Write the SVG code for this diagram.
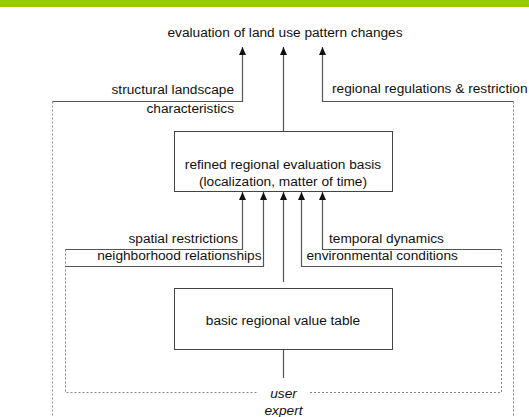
<svg xmlns="http://www.w3.org/2000/svg" width="529" height="417" viewBox="0 0 529 417">
  <style>
    text { font-family: "Liberation Sans", Arial, sans-serif; font-size: 13.7px; fill: #111; }
    .mid { text-anchor: middle; }
    .end { text-anchor: end; }
    .it { font-style: italic; }
    .box { fill: #fff; stroke: #444; stroke-width: 1; }
    .wire { fill: none; stroke: #555; stroke-width: 1.2; }
    .dot { fill: none; stroke: #888; stroke-width: 1; stroke-dasharray: 2 2; }
  </style>
  <defs>
    <marker id="head" viewBox="0 0 8 8" refX="8" refY="4" markerWidth="8" markerHeight="8" markerUnits="userSpaceOnUse" orient="auto">
      <path d="M0,0.5 L8,4 L0,7.5 Z" fill="#111"/>
    </marker>
  </defs>

  <rect x="0" y="0" width="529" height="7" fill="#99cc00"/>

  <!-- dotted boundaries -->
  <g id="boundaries">
    <path class="dot" d="M52.5,101.5 V417 M513.5,101.5 V417"/>
    <path class="dot" d="M65.5,249.5 V392.5 H258 M310,392.5 H501.5 V249.5"/>
  </g>

  <!-- connectors -->
  <g id="connectors">
    <path class="wire" d="M52.5,101.5 H242.5 V47" marker-end="url(#head)"/>
    <path class="wire" d="M283.5,131.5 V47" marker-end="url(#head)"/>
    <path class="wire" d="M513.5,101.5 H322.5 V47" marker-end="url(#head)"/>
    <path class="wire" d="M65.5,249.5 H242.5 V192" marker-end="url(#head)"/>
    <path class="wire" d="M65.5,266.5 H263.5 V192" marker-end="url(#head)"/>
    <path class="wire" d="M283.5,282 V192" marker-end="url(#head)"/>
    <path class="wire" d="M501.5,266.5 H301.5 V192" marker-end="url(#head)"/>
    <path class="wire" d="M501.5,249.5 H322.5 V192" marker-end="url(#head)"/>
    <path class="wire" d="M283.5,378 V337" marker-end="url(#head)"/>
  </g>

  <g id="result">
    <text class="mid" x="285" y="37">evaluation of land use pattern changes</text>
  </g>

  <g id="refined-basis">
    <rect class="box" x="174.5" y="131.5" width="218" height="60"/>
    <text class="mid" x="283" y="169">refined regional evaluation basis</text>
    <text class="mid" x="283" y="186">(localization, matter of time)</text>
  </g>

  <g id="value-table">
    <rect class="box" x="174.5" y="288.5" width="218" height="61"/>
    <text class="mid" x="283" y="325">basic regional value table</text>
  </g>

  <g id="labels">
    <text class="end" x="234" y="94">structural landscape</text>
    <text class="end" x="234" y="112.5">characteristics</text>
    <text x="332" y="93">regional regulations &amp; restriction</text>
    <text class="end" x="238" y="242.5">spatial restrictions</text>
    <text class="end" x="261.5" y="260">neighborhood relationships</text>
    <text x="329" y="242.5">temporal dynamics</text>
    <text x="306.5" y="260">environmental conditions</text>
  </g>

  <g id="user">
    <text class="mid it" x="283.5" y="398">user</text>
    <text class="mid it" x="283.5" y="415">expert</text>
  </g>
</svg>
